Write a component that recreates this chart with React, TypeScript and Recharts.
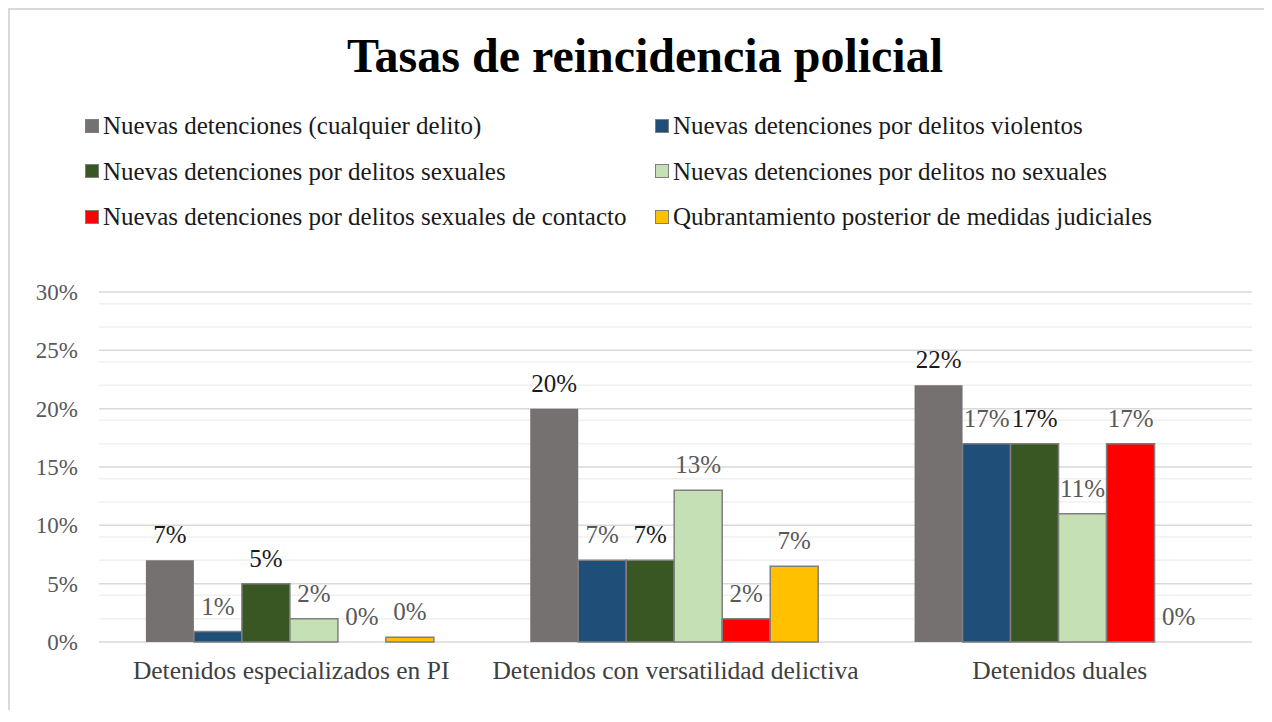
import React from "react";
import { BarChart, Bar, XAxis, YAxis, CartesianGrid, LabelList, Rectangle } from "recharts";

const categories = [
  "Detenidos especializados en PI",
  "Detenidos con versatilidad delictiva",
  "Detenidos duales",
];

const seriesNames = [
  "Nuevas detenciones (cualquier delito)",
  "Nuevas detenciones por delitos violentos",
  "Nuevas detenciones por delitos sexuales",
  "Nuevas detenciones por delitos no sexuales",
  "Nuevas detenciones por delitos sexuales de contacto",
  "Qubrantamiento posterior de medidas judiciales",
];

// one array per series, values in %, in category order
const anyCrime = [7, 20, 22];
const violentos = [0.9, 7, 17];
const sexuales = [5, 7, 17];
const noSexuales = [2, 13, 11];
const contacto = [0, 2, 17];
const quebrantamiento = [0.4, 6.5, 0];

const majorTicks = [0, 5, 10, 15, 20, 25, 30];
const minorTicks = [1, 2, 3, 4, 6, 7, 8, 9, 11, 12, 13, 14, 16, 17, 18, 19, 21, 22, 23, 24, 26, 27, 28, 29];

const colors = ["#767171", "#1f4e79", "#385723", "#c5e0b4", "#ff0000", "#ffc000"];
const labelColors = ["#1a1a1a", "#595959", "#1a1a1a", "#595959", "#595959", "#595959"];
const keys = ["s0", "s1", "s2", "s3", "s4", "s5"];

const seriesValues = [anyCrime, violentos, sexuales, noSexuales, contacto, quebrantamiento];

const data = categories.map((name, i) => {
  const row: Record<string, string | number> = { name };
  seriesValues.forEach((vals, s) => {
    row[keys[s]] = vals[i];
  });
  return row;
});

const FONT = "'Liberation Serif', 'DejaVu Serif', serif";
const pct = (v: unknown) => `${Math.round(Number(v))}%`;

// zero-valued bars still get their "0%" label, but no visible rectangle
const zeroKeep = (v: number) => (v === 0 ? 0.01 : 0);
const BarShape = (props: any) => (props.height < 0.5 ? <g /> : <Rectangle {...props} />);

export default function App() {
  return (
    <div
      style={{
        position: "relative",
        width: 1254,
        height: 700,
        borderLeft: "2px solid #d9d9d9",
        borderTop: "2px solid #d9d9d9",
        fontFamily: FONT,
        background: "#fff",
      }}
    >
      <div
        style={{
          position: "absolute",
          top: 22,
          left: 8,
          width: 1254,
          textAlign: "center",
          fontSize: 48,
          lineHeight: "48px",
          fontWeight: "bold",
          color: "#000",
        }}
      >
        Tasas de reincidencia policial
      </div>
      <div style={{ position: "absolute", top: 0, left: 0 }}>
        {seriesNames.map((n, i) => (
          <div
            key={n}
            style={{
              position: "absolute",
              left: i % 2 === 0 ? 75 : 645,
              top: 103 + Math.floor(i / 2) * 45.5,
              display: "flex",
              alignItems: "center",
              whiteSpace: "nowrap",
              fontSize: 25,
              lineHeight: "25px",
              color: "#1a1a1a",
            }}
          >
            <span
              style={{
                display: "inline-block",
                width: 12,
                height: 12,
                background: colors[i],
                border: "1.5px solid #7f7f7f",
                marginRight: 4,
              }}
            />
            {n}
          </div>
        ))}
      </div>
      <BarChart
        width={1254}
        height={700}
        data={data}
        margin={{ top: 282, right: 12, left: 0, bottom: 0 }}
        barCategoryGap="12.2%"
        barGap={0}
        style={{ position: "absolute", top: 0, left: 0 }}
      >
        <CartesianGrid
          vertical={false}
          horizontalValues={minorTicks}
          stroke="#f0f0f0"
          strokeWidth={1.5}
        />
        <CartesianGrid
          vertical={false}
          horizontalValues={majorTicks}
          stroke="#d9d9d9"
          strokeWidth={1.5}
        />
        <XAxis
          dataKey="name"
          axisLine={false}
          tickLine={false}
          tickSize={0}
          tickMargin={19}
          height={68}
          interval={0}
          tick={{ fill: "#404040", fontSize: 25.5, fontFamily: FONT }}
        />
        <YAxis
          domain={[0, 30]}
          ticks={majorTicks}
          width={89}
          axisLine={false}
          tickLine={false}
          tickSize={0}
          tickMargin={21}
          tickFormatter={pct}
          tick={{ fill: "#595959", fontSize: 23, fontFamily: FONT }}
        />
        {keys.map((k, i) => (
          <Bar
            key={k}
            dataKey={k}
            name={seriesNames[i]}
            fill={colors[i]}
            stroke={i === 0 ? "none" : "#7f7f7f"}
            strokeWidth={1.5}
            minPointSize={zeroKeep}
            shape={BarShape}
            isAnimationActive={false}
          >
            <LabelList
              dataKey={k}
              position="top"
              offset={17}
              formatter={pct}
              fill={labelColors[i]}
              fontSize={25}
              fontFamily={FONT}
            />
          </Bar>
        ))}
      </BarChart>
    </div>
  );
}
